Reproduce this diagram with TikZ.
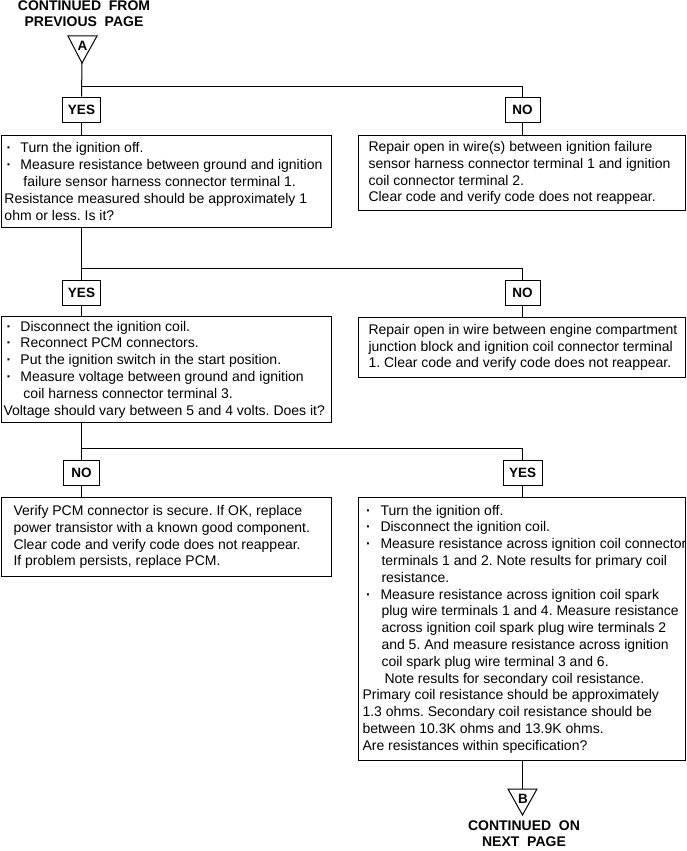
\documentclass[tikz,border=0pt]{standalone}
\usepackage{fontspec}
\setmainfont{Liberation Sans}
\frenchspacing
\newcommand{\bl}[2]{\makebox[#2][l]{\hspace{#1}\textbf{·}}}
\begin{document}
\begin{tikzpicture}[x=1pt,y=-1pt,
  line width=1pt,
  box/.style={draw, rectangle, anchor=north west, inner sep=0pt},
  txt/.style={anchor=west, align=left, inner sep=0pt, font=\fontsize{14}{16.8}\selectfont},
  lbl/.style={draw, rectangle, inner sep=0pt, minimum height=25pt, font=\bfseries\fontsize{13.5}{16}\selectfont},
  hdr/.style={align=center, inner sep=0pt, font=\bfseries\fontsize{14}{16}\selectfont},
  trilbl/.style={inner sep=0pt, font=\bfseries\fontsize{13.5}{14}\selectfont}]
\useasboundingbox (0,0) rectangle (686,851);

% header
\node[hdr] (top) at (84,14) {CONTINUED\ \ FROM\\PREVIOUS\ \ PAGE};
\coordinate (Aapex) at (82,63);
\draw (68,36) -- (97,36) -- (Aapex) -- cycle;
\node[trilbl] (A) at (82.5,45.5) {A};

% row 1
\node[lbl, minimum width=38pt] (y1) at (81.5,109.5) {YES};
\node[lbl, minimum width=35pt] (n1) at (522.5,109.5) {NO};
\coordinate (j1) at (82,86);
\draw (Aapex) -- (y1.north);
\draw (j1) -| (n1.north);

\node[box, minimum width=330pt, minimum height=92pt] (b1) at (1,135) {};
\node[txt] (t1) at ([xshift=3pt]b1.west) {%
\bl{2pt}{16pt}Turn the ignition off.\\
\bl{2pt}{16pt}Measure resistance between ground and ignition\\
\hspace*{19pt}failure sensor harness connector terminal 1.\\
Resistance measured should be approximately 1\\
ohm or less. Is it?};
\node[box, minimum width=327pt, minimum height=75pt] (b2) at (358,135) {};
\node[txt] (t2) at ([xshift=10pt]b2.west) {%
Repair open in wire(s) between ignition failure\\
sensor harness connector terminal 1 and ignition\\
coil connector terminal 2.\\
Clear code and verify code does not reappear.};
\draw (y1.south) -- (y1.south |- b1.north);
\draw (n1.south) -- (n1.south |- b2.north);

% row 2
\node[lbl, minimum width=38pt] (y2) at (81.5,292.5) {YES};
\node[lbl, minimum width=35pt] (n2) at (522.5,292.5) {NO};
\coordinate (j2) at (82,268);
\draw (y1.south |- b1.south) -- (y2.north);
\draw (j2) -| (n2.north);

\node[box, minimum width=330pt, minimum height=106pt] (b3) at (1,316) {};
\node[txt] (t3) at ([xshift=2pt]b3.west) {%
\bl{3pt}{17pt}Disconnect the ignition coil.\\
\bl{3pt}{17pt}Reconnect PCM connectors.\\
\bl{3pt}{17pt}Put the ignition switch in the start position.\\
\bl{3pt}{17pt}Measure voltage between ground and ignition\\
\hspace*{20pt}coil harness connector terminal 3.\\
Voltage should vary between 5 and 4 volts. Does it?};
\node[box, minimum width=327pt, minimum height=60pt] (b4) at (358,317) {};
\node[txt] (t4) at ([xshift=10pt]b4.west) {%
Repair open in wire between engine compartment\\
junction block and ignition coil connector terminal\\
1. Clear code and verify code does not reappear.};
\draw (y2.south) -- (y2.south |- b3.north);
\draw (n2.south) -- (n2.south |- b4.north);

% row 3
\node[lbl, minimum width=36pt] (n3) at (81.5,472.5) {NO};
\node[lbl, minimum width=39pt] (y3) at (522.5,472.5) {YES};
\coordinate (j3) at (82,448);
\draw (y2.south |- b3.south) -- (n3.north);
\draw (j3) -| (y3.north);

\node[box, minimum width=330pt, minimum height=79pt] (b5) at (1,497) {};
\node[txt] (t5) at ([xshift=12pt]b5.west) {%
Verify PCM connector is secure. If OK, replace\\
power transistor with a known good component.\\
Clear code and verify code does not reappear.\\
If problem persists, replace PCM.};
\node[box, minimum width=327pt, minimum height=263pt] (b6) at (358,497) {};
\node[txt] (t6) at ([xshift=4pt]b6.west) {%
\bl{3.5pt}{18pt}Turn the ignition off.\\
\bl{3.5pt}{18pt}Disconnect the ignition coil.\\
\bl{3.5pt}{18pt}Measure resistance across ignition coil connector\\
\hspace*{19pt}terminals 1 and 2. Note results for primary coil\\
\hspace*{19pt}resistance.\\
\bl{3.5pt}{18pt}Measure resistance across ignition coil spark\\
\hspace*{19pt}plug wire terminals 1 and 4. Measure resistance\\
\hspace*{19pt}across ignition coil spark plug wire terminals 2\\
\hspace*{19pt}and 5. And measure resistance across ignition\\
\hspace*{19pt}coil spark plug wire terminal 3 and 6.\\
\hspace*{22pt}Note results for secondary coil resistance.\\
Primary coil resistance should be approximately\\
1.3 ohms. Secondary coil resistance should be\\
between 10.3K ohms and 13.9K ohms.\\
Are resistances within specification?};
\draw (n3.south) -- (n3.south |- b5.north);
\draw (y3.south) -- (y3.south |- b6.north);

% footer
\coordinate (Btop) at (522.5,789);
\draw (y3.south |- b6.south) -- (Btop);
\draw (508,789) -- (537,789) -- (522.5,815) -- cycle;
\node[trilbl] (B) at (523,798.5) {B};
\node[hdr] (bot) at (524,834) {CONTINUED\ \ ON\\NEXT\ \ PAGE};
\end{tikzpicture}
\end{document}
